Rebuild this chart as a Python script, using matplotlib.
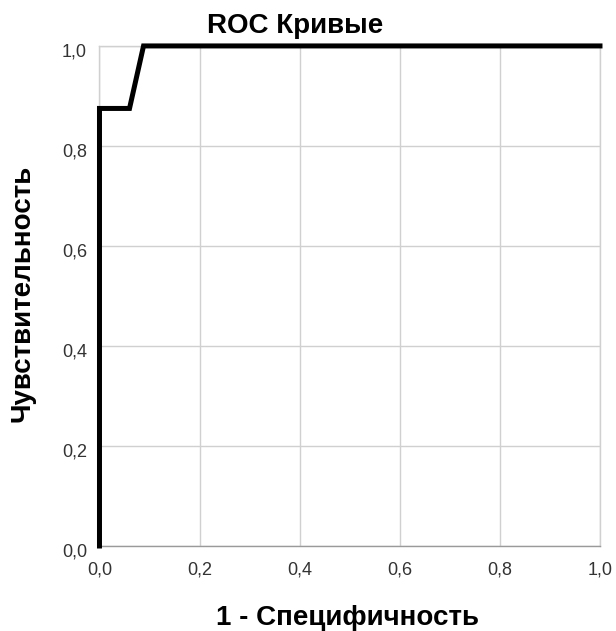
import matplotlib
matplotlib.use("Agg")
import matplotlib.pyplot as plt
from matplotlib.ticker import FuncFormatter
from matplotlib.transforms import ScaledTranslation

plt.rcParams['font.family'] = ['Liberation Sans', 'DejaVu Sans']

fpr = [0.0, 0.0, 0.06, 0.088, 1.0]
tpr = [0.0, 0.875, 0.875, 1.0, 1.0]
ticks = [0.0, 0.2, 0.4, 0.6, 0.8, 1.0]

fig = plt.figure(figsize=(6.16, 6.31), dpi=100)
ax = fig.add_axes([0.1615, 0.1347, 0.8125, 0.7925])
ax.set_xlim(0, 1)
ax.set_ylim(0, 1)
ax.set_xticks(ticks)
ax.set_yticks(ticks)
fmt = FuncFormatter(lambda v, p: f"{v:.1f}".replace('.', ','))
ax.xaxis.set_major_formatter(fmt)
ax.yaxis.set_major_formatter(fmt)
ax.grid(True, color='#d0d0d0', linewidth=1.0)
ax.set_axisbelow(True)
for s in ax.spines.values():
    s.set_color('#d0d0d0')
    s.set_linewidth(1.0)
ax.spines['bottom'].set_color('#9a9a9a')
ax.tick_params(axis='x', length=0, labelsize=13, colors='#333333', pad=11)
ax.tick_params(axis='y', length=0, labelsize=13, colors='#333333', pad=9)
off = ScaledTranslation(0, -0.04, fig.dpi_scale_trans)
for lab in ax.get_yticklabels():
    lab.set_transform(lab.get_transform() + off)
ax.plot(fpr, tpr, color='black', linewidth=3.6, solid_joinstyle='miter', clip_on=False, zorder=5)

fig.text(0.479, 0.9477, 'ROC Кривые', fontsize=20, fontweight='bold', ha='center', va='baseline')
fig.text(0.564, 0.009, '1 - Специфичность', fontsize=20, fontweight='bold', ha='center', va='baseline')
fig.text(0.037, 0.5357, 'Чувствительность', fontsize=20, fontweight='bold', ha='center', va='center', rotation=90)
fig.savefig('out.png', dpi=100)
